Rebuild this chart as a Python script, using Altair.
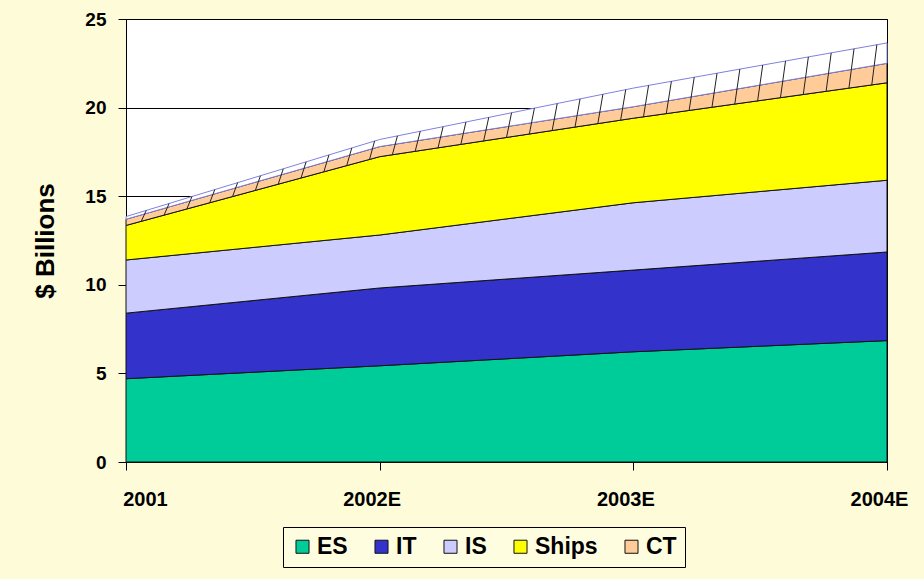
import altair as alt
import pandas as pd
import numpy as np

years = ["2001", "2002E", "2003E", "2004E"]
series_names = ["ES", "IT", "IS", "Ships", "CT"]
es = [4.7, 5.43, 6.22, 6.85]
it = [3.7, 4.39, 4.61, 5.0]
is_ = [3.0, 2.99, 3.8, 4.05]
ships = [1.95, 4.42, 4.77, 5.5]
ct = [0.35, 0.57, 0.65, 1.1]
other = [0.15, 0.4, 1.05, 1.15]

all_series = series_names + ["Other"]
values = [es, it, is_, ships, ct, other]
fill_colors = ["#00CC99", "#3333CC", "#CCCCFF", "#FFFF00", "#FFCC99", "#FFFFFF"]
stroke_colors = ["#111111", "#111111", "#111111", "#111111", "#111111", "#8080E0"]

rows = []
for k, (name, vals) in enumerate(zip(all_series, values)):
    for i, v in enumerate(vals):
        rows.append({"idx": i, "series": name, "value": v, "ord": k})
df = pd.DataFrame(rows)

# decorative hatch over CT + top band, derived from the stacked values
idx = np.arange(4)
base = np.array(es) + np.array(it) + np.array(is_) + np.array(ships)
top = base + np.array(ct) + np.array(other)
hx = np.arange(0.06, 2.97, 0.09)
hatch = pd.DataFrame({
    "x1": hx,
    "x2": hx + 0.02,
    "y1": np.interp(hx, idx, base),
    "y2": np.interp(hx + 0.02, idx, top),
})

font = "Liberation Sans, Arial, sans-serif"
label_expr = "['2001','2002E','2003E','2004E'][datum.value]"

x_enc = alt.X(
    "idx:Q",
    scale=alt.Scale(domain=[0, 3], nice=False, zero=False),
    axis=alt.Axis(values=[0, 1, 2, 3], labelExpr=label_expr, title=None, grid=False,
                  tickSize=8, labelPadding=19, labelFontSize=20, labelFont=font,
                  labelFontWeight="bold", labelColor="black", domainColor="black",
                  tickColor="black", labelFlush=False, labelBound=False,
                  labelAlign="center",
                  labelOffset=alt.expr("datum.value == 0 ? 19 : -8")),
)

area = alt.Chart(df).mark_area(strokeWidth=1).encode(
    x=x_enc,
    y=alt.Y(
        "value:Q",
        stack="zero",
        scale=alt.Scale(domain=[0, 25], nice=False),
        axis=alt.Axis(values=[0, 5, 10, 15, 20, 25], title="$ Billions", grid=True,
                      gridColor="black", gridOpacity=1, gridWidth=1,
                      tickSize=8, labelPadding=12, labelFontSize=19, labelFont=font,
                      labelFontWeight="bold", labelColor="black", domainColor="black",
                      tickColor="black", titleFontSize=26, titleFont=font,
                      titleFontWeight="bold", titleColor="black", titlePadding=26),
    ),
    color=alt.Color(
        "series:N",
        scale=alt.Scale(domain=all_series, range=fill_colors),
        legend=alt.Legend(
            values=series_names, title=None, orient="none", direction="horizontal",
            legendX=157, legendY=508, columns=5, symbolType="square", symbolSize=170,
            symbolStrokeColor="black", symbolStrokeWidth=1, symbolOpacity=1,
            labelFontSize=23, labelFont=font, labelFontWeight="bold", labelColor="black",
            strokeColor="black", fillColor="#FFFDE0", padding=8, columnPadding=22,
            labelOffset=3,
        ),
    ),
    stroke=alt.Stroke("series:N", scale=alt.Scale(domain=all_series, range=stroke_colors),
                      legend=None),
    order=alt.Order("ord:Q"),
)

hatch_layer = alt.Chart(hatch).mark_rule(color="#222222", strokeWidth=1).encode(
    x="x1:Q", x2="x2:Q", y="y1:Q", y2="y2:Q"
)

chart = alt.layer(area, hatch_layer).properties(
    width=761, height=443,
    autosize=alt.AutoSizeParams(type="none"),
    padding={"left": 126, "top": 19, "right": 37, "bottom": 117},
    background="#FEFBD8",
).configure_view(stroke="black", strokeWidth=1, fill="white")

chart.save("out.html", embed_options={"renderer": "svg", "actions": False})
